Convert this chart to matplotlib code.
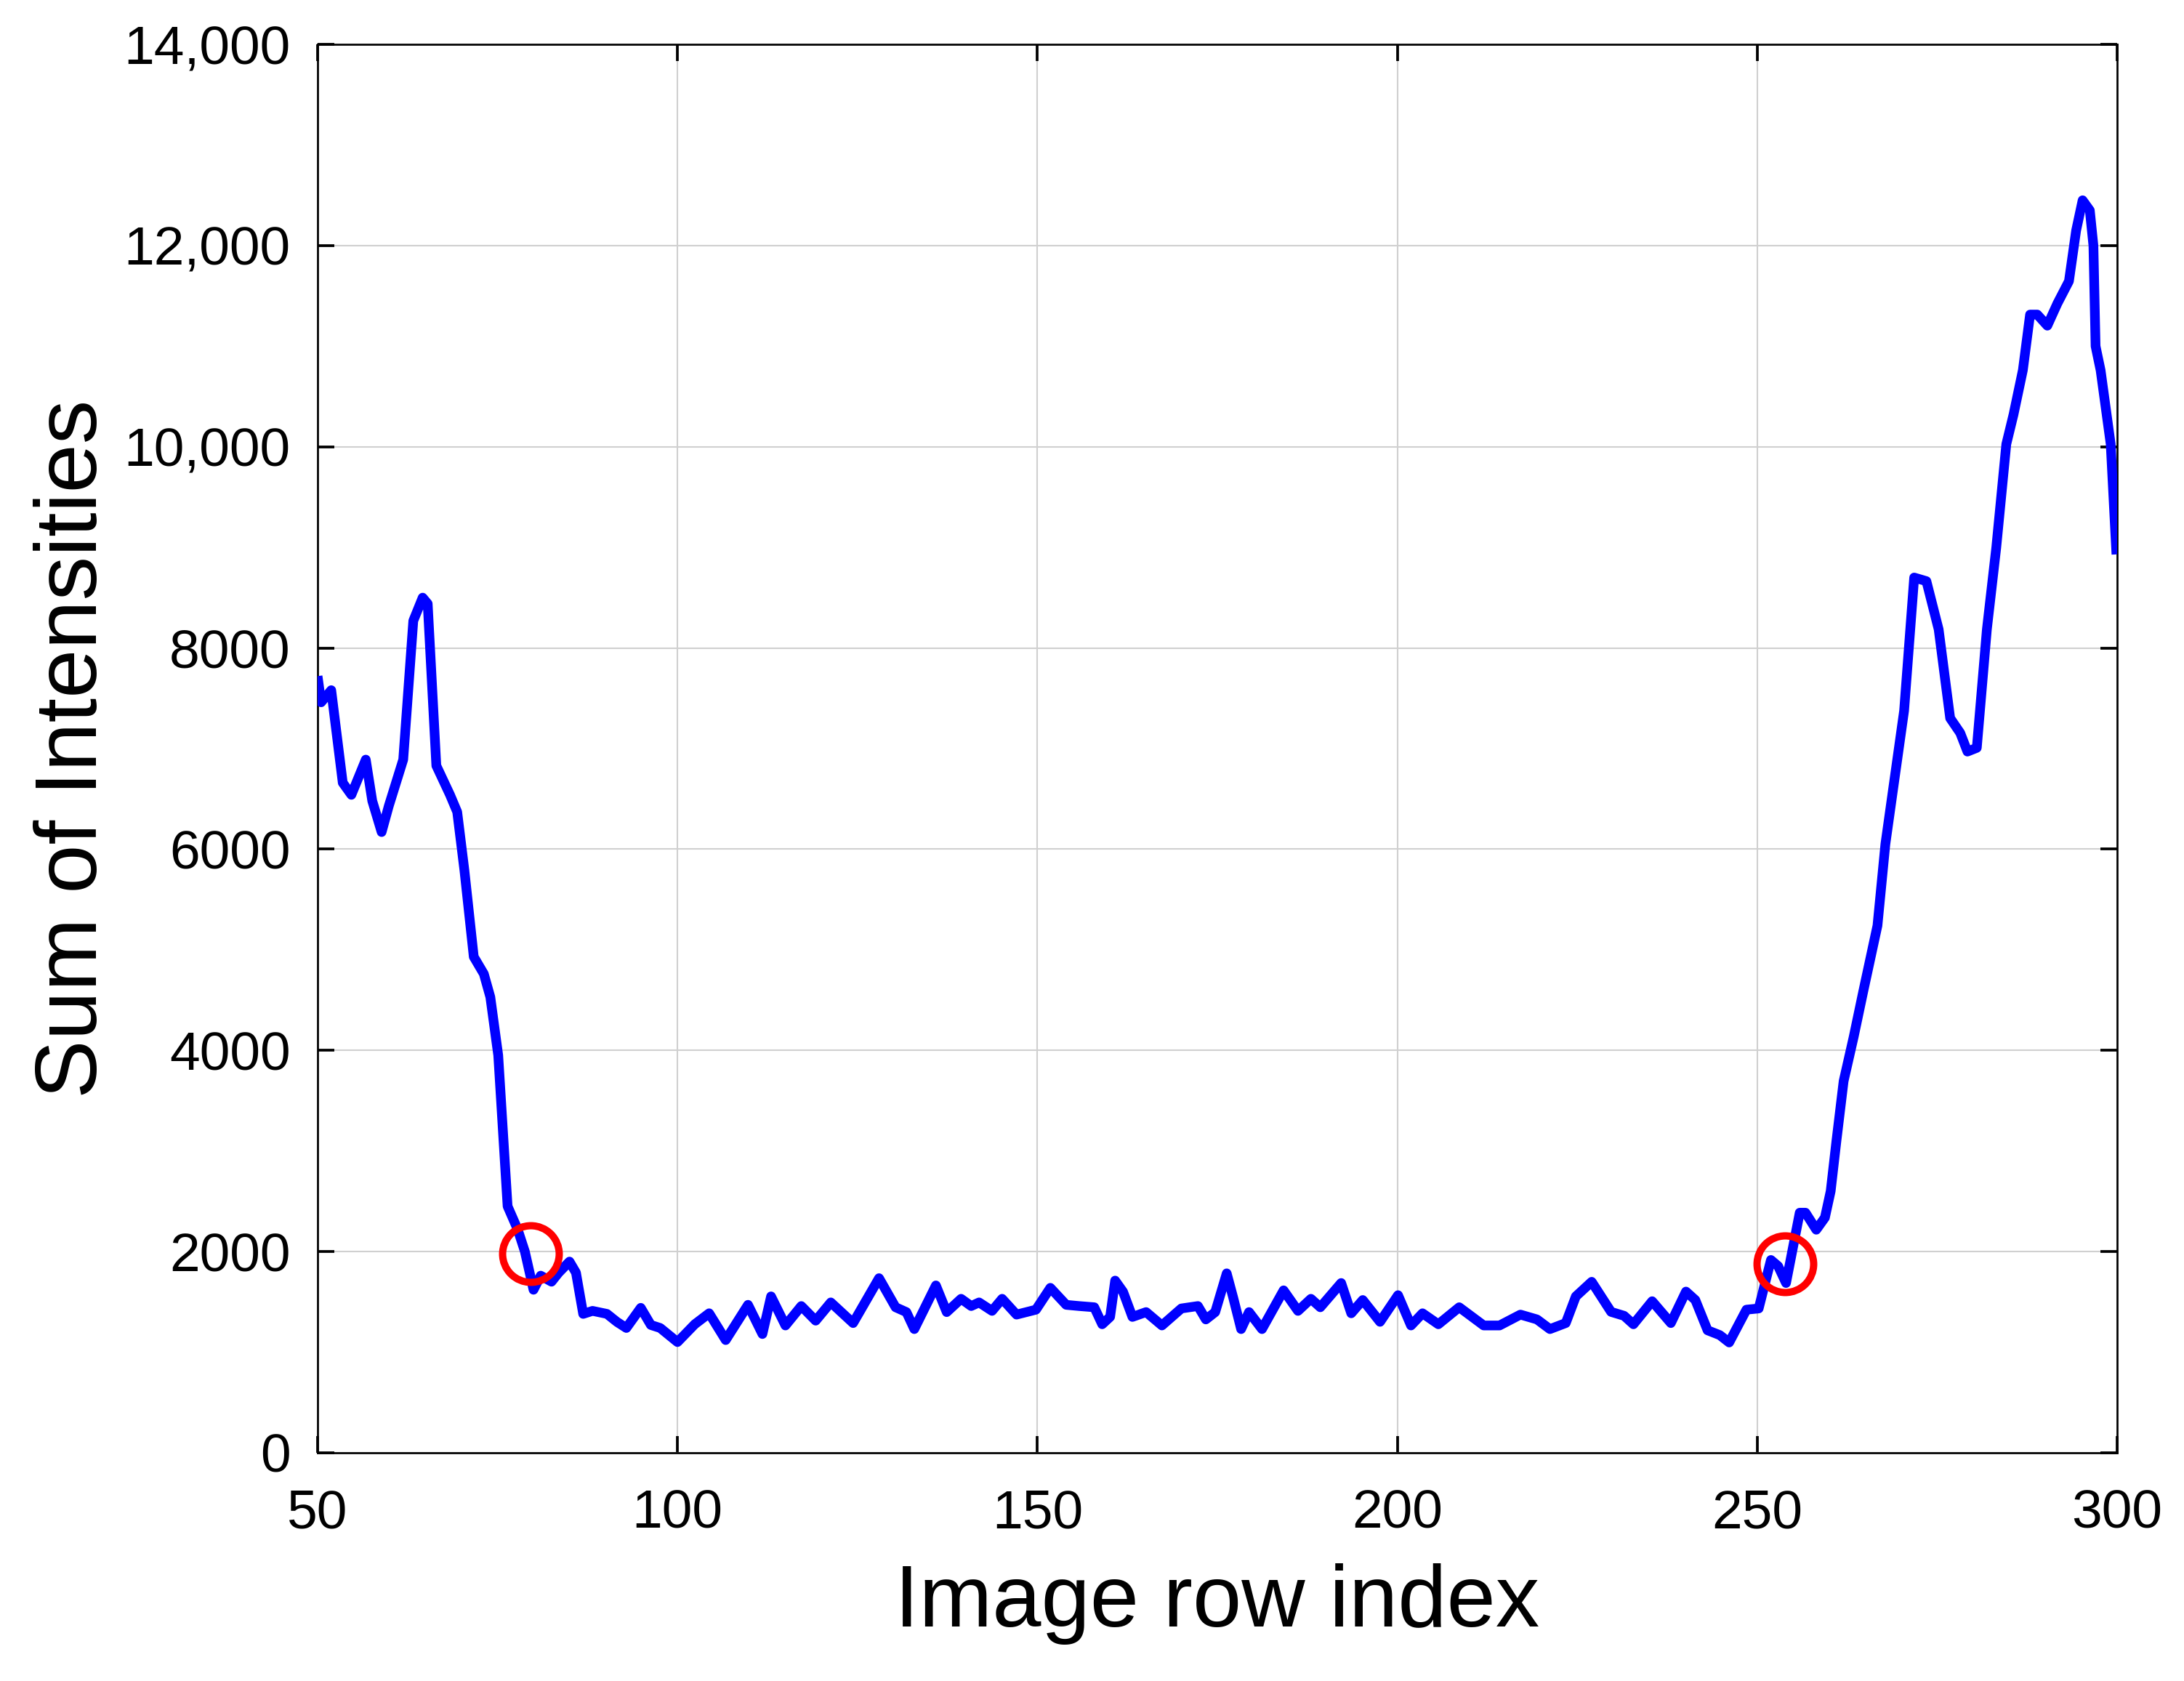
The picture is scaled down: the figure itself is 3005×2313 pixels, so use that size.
import matplotlib
matplotlib.use("Agg")
import matplotlib.pyplot as plt

matplotlib.rcParams["font.family"] = ["Liberation Sans", "DejaVu Sans"]

# row index vs. summed intensity
rows = [50, 50.5, 51.9, 53.5, 54.7, 56.7, 57.6, 58.9, 59.9, 61.9, 63.3, 64.6, 65.3,
        66.5, 68.4, 69.4, 70.4, 71.7, 73.1, 74.0, 75.1, 76.4, 77.8, 78.8, 80.0, 81.0,
        82.5, 83.5, 85.0, 85.9, 86.9, 88.2, 90.2, 91.6, 92.9, 94.9, 96.3, 97.6, 100.0,
        102.4, 104.4, 106.7, 109.8, 111.8, 113.0, 115.0, 117.2, 119.2, 121.3, 124.4,
        128.0, 130.3, 131.8, 132.9, 135.9, 137.4, 139.4, 140.8, 141.9, 143.7, 145.1,
        147.1, 149.8, 151.8, 154.0, 155.8, 157.9, 159.0, 160.1, 160.8, 161.9, 163.2,
        165.1, 167.3, 170.0, 172.3, 173.4, 174.7, 176.3, 177.2, 178.3, 179.4, 181.2,
        184.2, 186.2, 188.0, 189.3, 192.2, 193.6, 195.2, 197.6, 200.1, 201.9, 203.5,
        205.7, 208.6, 212.0, 214.2, 217.1, 219.4, 221.2, 223.4, 224.8, 227.0, 229.7,
        231.5, 232.8, 235.4, 238.0, 240.1, 241.4, 243.1, 244.8, 246.1, 248.5, 250.2,
        251.9, 252.9, 254.0, 255.9, 256.7, 258.2, 259.4, 260.2, 261.0, 262.0, 263.4,
        264.7, 266.7, 267.8, 269.1, 270.4, 271.8, 273.5, 275.2, 276.8, 278.2, 279.2,
        280.5, 281.9, 283.2, 284.6, 285.6, 286.9, 287.9, 288.9, 290.3, 291.7, 293.3,
        294.3, 295.2, 296.2, 296.7, 297.0, 297.7, 298.4, 299.1, 299.9]
intensity = [7720, 7460, 7580, 6660, 6540, 6890, 6480, 6170, 6430, 6890, 8270, 8500, 8440,
             6830, 6540, 6370, 5790, 4930, 4760, 4530, 3950, 2450, 2220, 2000, 1620, 1760,
             1700, 1790, 1900, 1790, 1380, 1410, 1380, 1300, 1240, 1440, 1270, 1240, 1100,
             1277, 1386, 1120, 1470, 1180, 1554, 1265, 1458, 1313, 1494, 1289,
             1735, 1446, 1398, 1229, 1663, 1398, 1530, 1458, 1494, 1410, 1530,
             1373, 1422, 1639, 1470, 1458, 1446, 1277, 1350, 1711, 1600, 1350,
             1398, 1265, 1434, 1458, 1325, 1398, 1783, 1542, 1229, 1398, 1229,
             1614, 1410, 1530, 1446, 1687, 1386, 1518, 1301, 1566, 1265, 1386,
             1277, 1446, 1265, 1265, 1373, 1325, 1229, 1289, 1554, 1699, 1400,
             1361, 1277, 1506, 1289, 1602, 1518, 1217, 1169, 1096, 1422, 1434,
             1916, 1855, 1687, 2386, 2386, 2217, 2337, 2600, 3100, 3694, 4135,
             4577, 5240, 6050, 6712, 7375, 8700, 8664, 8185, 7302, 7155, 6970,
             7007, 8185, 8995, 10026, 10320, 10762, 11314, 11314, 11204, 11425, 11646,
             12150, 12450, 12350, 12000, 11000, 10760, 10394, 10026, 8930]

# the two rows marked with red circles
marked_rows = [79.6, 253.9]
marked_vals = [1980, 1880]

x_ticks = [50, 100, 150, 200, 250, 300]
y_ticks = [0, 2000, 4000, 6000, 8000, 10000, 12000, 14000]
y_tick_labels = ["0", "2000", "4000", "6000", "8000", "10,000", "12,000", "14,000"]


def main():
    fig = plt.figure(figsize=(3005 / 300, 2313 / 300), dpi=300)
    ax = fig.add_axes([0.1454, 0.1358, 0.9694 - 0.1454, 0.9736 - 0.1358])

    ax.plot(rows, intensity, color="#0000ff", linewidth=3.2,
            solid_joinstyle="round", solid_capstyle="butt", zorder=3)
    ax.plot(marked_rows, marked_vals, linestyle="none", marker="o", markersize=18.7,
            markerfacecolor="none", markeredgecolor="#ff0000", markeredgewidth=2.4,
            zorder=4)

    ax.set_xlim(50, 300)
    ax.set_ylim(0, 14000)
    ax.set_xticks(x_ticks)
    ax.set_yticks(y_ticks)
    ax.set_yticklabels(y_tick_labels)

    ax.grid(True, color="#d0d0d0", linewidth=0.5)
    ax.set_axisbelow(True)
    ax.tick_params(direction="in", top=True, right=True, length=5.5, width=0.9,
                   labelsize=18)
    ax.tick_params(axis="x", pad=12)
    ax.tick_params(axis="y", pad=9)
    for s in ax.spines.values():
        s.set_linewidth(0.65)

    ax.set_xlabel("Image row index", fontsize=29, labelpad=8)
    ax.set_ylabel("Sum of Intensities", fontsize=29, labelpad=3)

    fig.savefig("out.png", dpi=300)
    plt.close(fig)


if __name__ == "__main__":
    main()
